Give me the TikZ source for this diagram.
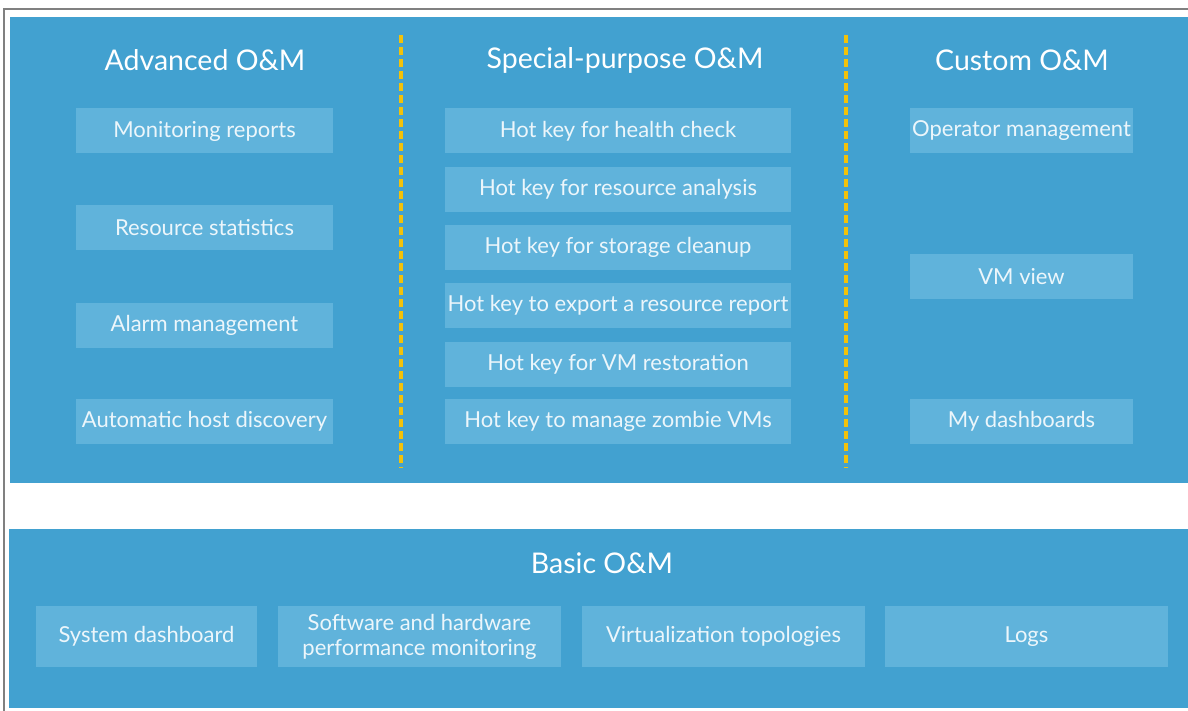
\documentclass[tikz,border=0pt]{standalone}
\usepackage{fontspec}
\setmainfont{Lato}
\definecolor{panelblue}{RGB}{66,161,208}
\definecolor{itemblue}{RGB}{96,179,219}
\definecolor{itemtext}{RGB}{236,246,251}
\definecolor{sepgold}{RGB}{242,194,10}
\definecolor{framegray}{RGB}{128,128,128}
\begin{document}
\begin{tikzpicture}[x=1pt,y=-1pt,
  panel/.style={fill=panelblue,draw=none},
  title/.style={text=white,font=\fontsize{28.5}{32}\selectfont,inner sep=0pt},
  item/.style={fill=itemblue,draw=none,inner sep=0pt,minimum height=45pt,
    text=itemtext,font=\fontsize{22}{25}\selectfont,align=center},
  leftitem/.style={item,minimum width=257pt},
  miditem/.style={item,minimum width=346pt},
  rightitem/.style={item,minimum width=223pt},
  baseitem/.style={item,minimum height=61pt},
  separator/.style={draw=sepgold,line width=3.5pt,dash pattern=on 8pt off 4pt}]

% page and outer frame
\useasboundingbox (0,0) rectangle (1188,711);
\fill[white] (0,0) rectangle (1188,711);
\draw[framegray,line width=1.5pt] (4,711) -- (4,9) -- (1188,9);

% panels
\fill[panel] (10,17) rectangle (1188,483);
\fill[panel] (9,529) rectangle (1188,708);

% column separators
\draw[separator] (401,35) -- (401,468);
\draw[separator] (846,35) -- (846,468);

% advanced O&M
\node[title] (tadv) at (205,60) {Advanced O\&M};
\node[leftitem] (a1) at (204.5,131) {Monitoring reports};
\node[leftitem] (a2) at (204.5,228) {Resource statistics};
\node[leftitem] (a3) at (204.5,325) {Alarm management};
\node[leftitem] (a4) at (204.5,421.5) {Automatic host discovery};

% special-purpose O&M
\node[title] (tsp) at (625,60) {Special-purpose O\&M};
\node[miditem] (s1) at (618,131) {Hot key for health check};
\node[miditem] (s2) at (618,189.5) {Hot key for resource analysis};
\node[miditem] (s3) at (618,247.5) {Hot key for storage cleanup};
\node[miditem] (s4) at (618,305.5) {Hot key to export a resource report};
\node[miditem] (s5) at (618,364) {Hot key for VM restoration};
\node[miditem] (s6) at (618,421.5) {Hot key to manage zombie VMs};

% custom O&M
\node[title] (tcu) at (1022,60) {Custom O\&M};
\node[rightitem] (c1) at (1021.5,131) {Operator management};
\node[rightitem] (c2) at (1021.5,276.5) {VM view};
\node[rightitem] (c3) at (1021.5,421.5) {My dashboards};

% basic O&M
\node[title] (tba) at (602,563) {Basic O\&M};
\node[baseitem,minimum width=221pt] (b1) at (146.5,636.5) {System dashboard};
\node[baseitem,minimum width=283pt] (b2) at (419.5,636.5) {Software and hardware\\performance monitoring};
\node[baseitem,minimum width=283pt] (b3) at (723.5,636.5) {Virtualization topologies};
\node[baseitem,minimum width=283pt] (b4) at (1026.5,636.5) {Logs};
\end{tikzpicture}
\end{document}
